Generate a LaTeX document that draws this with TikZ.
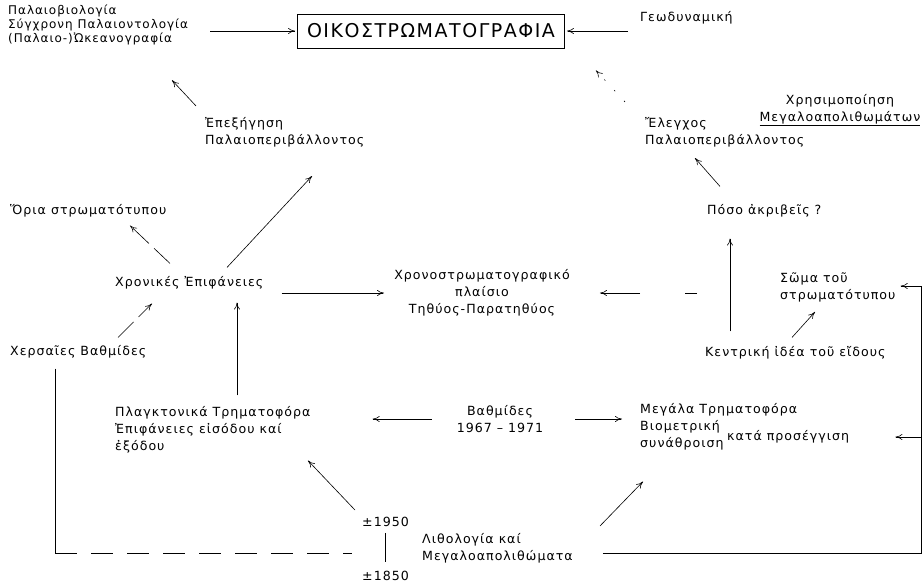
\documentclass[tikz,border=0pt]{standalone}
\usepackage{fontspec}
\setmainfont{DejaVu Sans}[LetterSpace=8]
\usepackage{tikz}
\usetikzlibrary{arrows.meta}

\tikzset{
    txt/.style={anchor=west, align=left, inner sep=0pt, font=\fontsize{12.6}{17}\selectfont},
    arr/.style={-{To[length=7pt,width=6pt]}, line width=0.6pt},
    dasharr/.style={arr, dash pattern=on 22pt off 7pt},
    dotarr/.style={arr, dash pattern=on 1.5pt off 13pt},
    link/.style={line width=0.6pt},
}

\begin{document}
\begin{tikzpicture}[x=1pt, y=-1pt]
            \useasboundingbox (0,0) rectangle (924,584);
            \node[txt, font=\fontsize{12}{14}\selectfont] (paleo) at (8,25)
                {Παλαιοβιολογία\\Σύγχρονη Παλαιοντολογία\\(Παλαιο-)Ὠκεανογραφία};
            \node[draw, line width=0.8pt, minimum width=267, minimum height=34,
                font=\fontsize{19}{19}\selectfont] (oiko) at (431,31) {ΟΙΚΟΣΤΡΩΜΑΤΟΓΡΑΦΙΑ};
            \node[txt] (geo) at (640,18) {Γεωδυναμική};
            \node[txt] (expl) at (205,132) {Ἐπεξήγηση\\Παλαιοπεριβάλλοντος};
            \node[txt] (check) at (645,132) {Ἔλεγχος\\Παλαιοπεριβάλλοντος};
            \node[txt, anchor=center, align=center] (use) at (840,110)
                {Χρησιμοποίηση\\\underline{Μεγαλοαπολιθωμάτων}};
            \node[txt] (poso) at (707,211) {Πόσο ἀκριβεῖς ?};
            \node[txt] (oria) at (10,211) {Ὅρια στρωματότυπου};
            \node[txt] (xron) at (115,283) {Χρονικές Ἐπιφάνειες};
            \node[txt, anchor=center, align=center] (plaisio) at (482,293)
                {Χρονοστρωματογραφικό\\πλαίσιο\\Τηθύος-Παρατηθύος};
            \node[txt] (soma) at (780,287) {Σῶμα τοῦ\\στρωματότυπου};
            \node[txt] (idea) at (705,353) {Κεντρική ἰδέα τοῦ εἴδους};
            \node[txt] (xers) at (10,352) {Χερσαῖες Βαθμίδες};
            \node[txt] (plagk) at (115,430)
                {Πλαγκτονικά Τρηματοφόρα\\Ἐπιφάνειες εἰσόδου καί\\ἐξόδου};
            \node[txt, anchor=center, align=center] (vath) at (500,419) {Βαθμίδες\\1967 -- 1971};
            \node[txt] (meg) at (640,427) {Μεγάλα Τρηματοφόρα\\Βιομετρική\\συνάθροιση};
            \node[txt] (kata) at (727,437) {κατά προσέγγιση};
            \node[txt] (lith) at (422,548) {Λιθολογία καί\\Μεγαλοαπολιθώματα};
            \node[txt] (y1950) at (362,522) {±1950};
            \node[txt] (y1850) at (362,576) {±1850};
            \coordinate (leftbot) at (55,553);
            \coordinate (rightbot) at (921,553);
            \coordinate (righttop) at (921,286);
            \draw[arr, shorten <=22pt, shorten >=2pt] (paleo.east |- oiko.center) -- (oiko.west);
            \draw[arr, shorten <=12pt, shorten >=2pt] (geo.west |- oiko.center) -- (oiko.east);
            \draw[arr] ([shift={(-9,-11)}]expl.north west) -- ([shift={(164,35)}]paleo.south west);
            \draw[dotarr] ([shift={(-20,-15)}]check.north west) -- ([shift={(31,22)}]oiko.south east);
            \draw[arr] ([shift={(13,-18)}]poso.north west) -- ([shift={(50,11)}]check.south west);
            \draw[dasharr] ([shift={(55,-13)}]xron.north west) -- ([shift={(120,8)}]oria.south west);
            \draw[arr] ([shift={(112,-9)}]xron.north west) -- ([shift={(107,29)}]expl.south west);
            \draw[arr, shorten <=18pt, shorten >=10pt] (xron.east |- plaisio.west) -- (plaisio.west);
            \draw[arr, dash pattern=on 12pt off 45pt on 60pt, shorten <=8pt, shorten >=30pt]
                (plaisio.east -| idea.west) -- (plaisio.east);
            \draw[arr] ([shift={(25,-15)}]idea.north west) -- ([shift={(23,21)}]poso.south west);
            \draw[arr] ([shift={(87,-9)}]idea.north west) -- ([shift={(35,10)}]soma.south west);
            \draw[dasharr] ([shift={(108,-8)}]xers.north west) -- ([shift={(37,14)}]xron.south west);
            \draw[arr] ([shift={(122,-11)}]plagk.north west) -- ([shift={(122,13)}]xron.south west);
            \draw[arr, shorten <=25pt, shorten >=62pt] (vath.west) -- (vath.west -| plagk.east);
            \draw[arr, shorten <=32pt, shorten >=18pt] (vath.east) -- (vath.east -| meg.west);
            \draw[arr] ([shift={(-7,-7)}]y1950.north west) -- ([shift={(193,7)}]plagk.south west);
            \draw[arr] ([shift={(178,-7)}]lith.north west) -- ([shift={(3,31)}]meg.south west);
            \draw[link, shorten <=30pt] (lith.east |- rightbot) -- (rightbot) -- (righttop);
            \draw[arr, shorten >=5pt] (righttop) -- (righttop -| soma.east);
            \draw[arr, shorten >=46pt] (rightbot |- kata.east) -- (kata.east);
            \draw[link, shorten <=10pt] (xers.south west -| leftbot) -- (leftbot);
            \draw[link, dash pattern=on 22pt off 14pt, shorten >=10pt] (leftbot) -- (leftbot -| y1950.west);
            \draw[link, line width=0.9pt, shorten <=6pt, shorten >=9pt] (y1950.south) -- (y1850.north);
        \end{tikzpicture}
\end{document}
